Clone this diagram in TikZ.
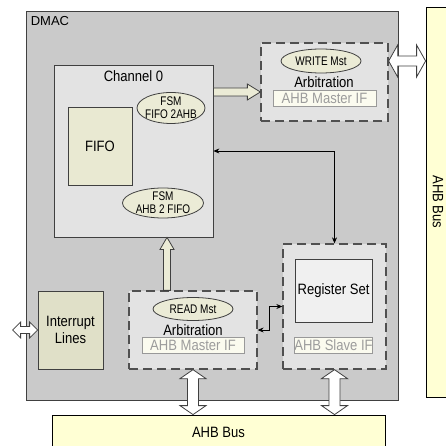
\documentclass[tikz,border=0pt]{standalone}
\usepackage{fontspec}
\setmainfont{Liberation Sans}[FakeStretch=0.87]
\newfontfamily\plainsans{Liberation Sans}
\newfontfamily\narrowsans{Liberation Sans}[FakeStretch=0.8]
\usetikzlibrary{positioning,arrows.meta,calc,shapes.geometric}
\definecolor{dmacgray}{HTML}{CACACA}
\definecolor{boxgray}{HTML}{E3E3E3}
\definecolor{edgegray}{HTML}{404040}
\definecolor{dashgray}{HTML}{505050}
\definecolor{beige}{HTML}{EBEBD6}
\definecolor{fifobeige}{HTML}{E9E9D2}
\definecolor{irqbeige}{HTML}{E0E0C8}
\definecolor{busyellow}{HTML}{FFFFD4}
\definecolor{iffill}{HTML}{FBFBEF}
\definecolor{iftext}{HTML}{9C9C9C}
\definecolor{regfill}{HTML}{F0F0F0}
\newcommand{\bigtxt}{\fontsize{15}{16.5}\selectfont}
\newcommand{\smalltxt}{\narrowsans\fontsize{12.5}{13}\selectfont}
% fat arrows: style, tail, tip, half shaft, half head, head length
\newcommand{\fatright}[6]{%
  \draw[#1] let \p1=#2, \p2=#3 in
    (\x1,{\y1+#4}) -- ({\x2-#6},{\y1+#4}) -- ({\x2-#6},{\y1+#5}) -- (\x2,\y1)
    -- ({\x2-#6},{\y1-#5}) -- ({\x2-#6},{\y1-#4}) -- (\x1,{\y1-#4}) -- cycle;}
\newcommand{\fatup}[6]{%
  \draw[#1] let \p1=#2, \p2=#3 in
    ({\x1-#4},\y1) -- ({\x1-#4},{\y2-#6}) -- ({\x1-#5},{\y2-#6}) -- (\x1,\y2)
    -- ({\x1+#5},{\y2-#6}) -- ({\x1+#4},{\y2-#6}) -- ({\x1+#4},\y1) -- cycle;}
\newcommand{\dblh}[6]{%
  \draw[#1] let \p1=#2, \p2=#3 in
    (\x1,\y1) -- ({\x1+#6},{\y1+#5}) -- ({\x1+#6},{\y1+#4}) -- ({\x2-#6},{\y1+#4})
    -- ({\x2-#6},{\y1+#5}) -- (\x2,\y1) -- ({\x2-#6},{\y1-#5}) -- ({\x2-#6},{\y1-#4})
    -- ({\x1+#6},{\y1-#4}) -- ({\x1+#6},{\y1-#5}) -- cycle;}
\newcommand{\dblv}[6]{%
  \draw[#1] let \p1=#2, \p2=#3 in
    (\x1,\y1) -- ({\x1+#5},{\y1-#6}) -- ({\x1+#4},{\y1-#6}) -- ({\x1+#4},{\y2+#6})
    -- ({\x1+#5},{\y2+#6}) -- (\x1,\y2) -- ({\x1-#5},{\y2+#6}) -- ({\x1-#4},{\y2+#6})
    -- ({\x1-#4},{\y1-#6}) -- ({\x1-#5},{\y1-#6}) -- cycle;}

\begin{document}
\begin{tikzpicture}[x=1pt, y=-1pt,
  box/.style={draw=edgegray, line width=0.8pt, inner sep=0pt, font=\bigtxt, align=center},
  arb/.style={draw=dashgray, fill=boxgray, dash pattern=on 9pt off 5pt, line width=1.3pt},
  fsm/.style={ellipse, draw=edgegray, fill=beige, line width=0.8pt, inner sep=0pt,
    label={[font=\smalltxt, align=center]center:#1}},
  ifbox/.style={draw=gray!80, fill=iffill, text=iftext, font=\bigtxt, inner sep=0pt,
    minimum height=16},
  bus/.style={draw=black, fill=busyellow, line width=0.8pt, font=\bigtxt, inner sep=0pt},
  fat/.style={draw=edgegray, fill=beige, line width=0.8pt},
  hollow/.style={draw=edgegray, fill=white, line width=0.8pt},
  link/.style={<->, line width=0.7pt},
  >={Stealth[length=6pt, width=5pt]}
]
  \useasboundingbox (0,0) rectangle (445,446);

  \node[box, fill=dmacgray, minimum width=372, minimum height=389,
    label={[anchor=north west, inner xsep=5pt, inner ysep=6pt,
      font=\plainsans\fontsize{13}{15}\selectfont]north west:DMAC}] (dmac) at (212,205.5) {};
  \node[bus, minimum width=333, minimum height=34] (bbus) at (218.5,432) {AHB Bus};
  \node[bus, minimum width=24, minimum height=390,
    label={[rotate=-90, anchor=center, font=\bigtxt]center:AHB Bus}] (rbus) at (438,202) {};

  % channel
  \node[box, fill=boxgray, minimum width=159, minimum height=172,
    label={[anchor=north, inner sep=6pt, font=\bigtxt]north:Channel 0}] (ch) at (133.5,151) {};
  \node[box, fill=fifobeige, minimum width=64, minimum height=78] (fifo) at (100,146) {FIFO};
  \node[fsm={FSM\\FIFO 2AHB}, minimum width=68, minimum height=31] (fsmout) at (171,108) {};
  \node[fsm={FSM\\AHB 2 FIFO}, minimum width=81, minimum height=30] (fsmin) at (163,203) {};

  % write master
  \node[arb, minimum width=127, minimum height=78] (wr) at (324.5,82) {};
  \node[fsm={WRITE Mst}, minimum width=80, minimum height=24] (wrmst) at (321,61) {};
  \node[font=\bigtxt, inner sep=0pt] (wrarb) at (324,82) {Arbitration};
  \node[ifbox, minimum width=103] (wrif) at (324.5,98) {AHB Master IF};

  % slave side
  \node[arb, minimum width=103, minimum height=125] (rs) at (334.5,306.5) {};
  \node[box, fill=regfill, minimum width=77, minimum height=63] (regs) at (333.5,290.5) {Register Set};
  \node[ifbox, minimum width=77] (slvif) at (333.5,345) {AHB Slave IF};

  % read master
  \node[arb, minimum width=128, minimum height=78] (rd) at (193,330) {};
  \node[fsm={READ Mst}, minimum width=80, minimum height=23] (rdmst) at (193,309) {};
  \node[font=\bigtxt, inner sep=0pt] (rdarb) at (193,330) {Arbitration};
  \node[ifbox, minimum width=102] (rdif) at (193,345.5) {AHB Master IF};

  \node[box, fill=irqbeige, minimum width=65, minimum height=78] (irq) at (70.5,330) {Interrupt\\Lines};

  % data paths
  \fatright{fat}{([yshift=59pt]ch.east)}{(wr.west)}{4pt}{8pt}{13pt}
  \fatup{fat}{([xshift=-26pt]rd.north)}{(ch.south)}{3.5pt}{7pt}{12pt}
  \dblh{hollow}{(wr.east |- wrmst)}{(rbus.west |- wrmst)}{5pt}{16pt}{9pt}
  \dblh{hollow}{([xshift=-25pt]irq.west)}{(irq.west)}{3.5pt}{8pt}{8pt}
  \dblv{hollow}{(rd.south)}{(rd.south |- bbus.north)}{5.5pt}{13pt}{9pt}
  \dblv{hollow}{(rs.south)}{(rs.south |- bbus.north)}{5.5pt}{13pt}{9pt}

  % control links
  \draw[link] (ch.east) -| (rs.north);
  \draw[link] (rd.east) -- ++(12,0) |- (rs.west);
\end{tikzpicture}
\end{document}
